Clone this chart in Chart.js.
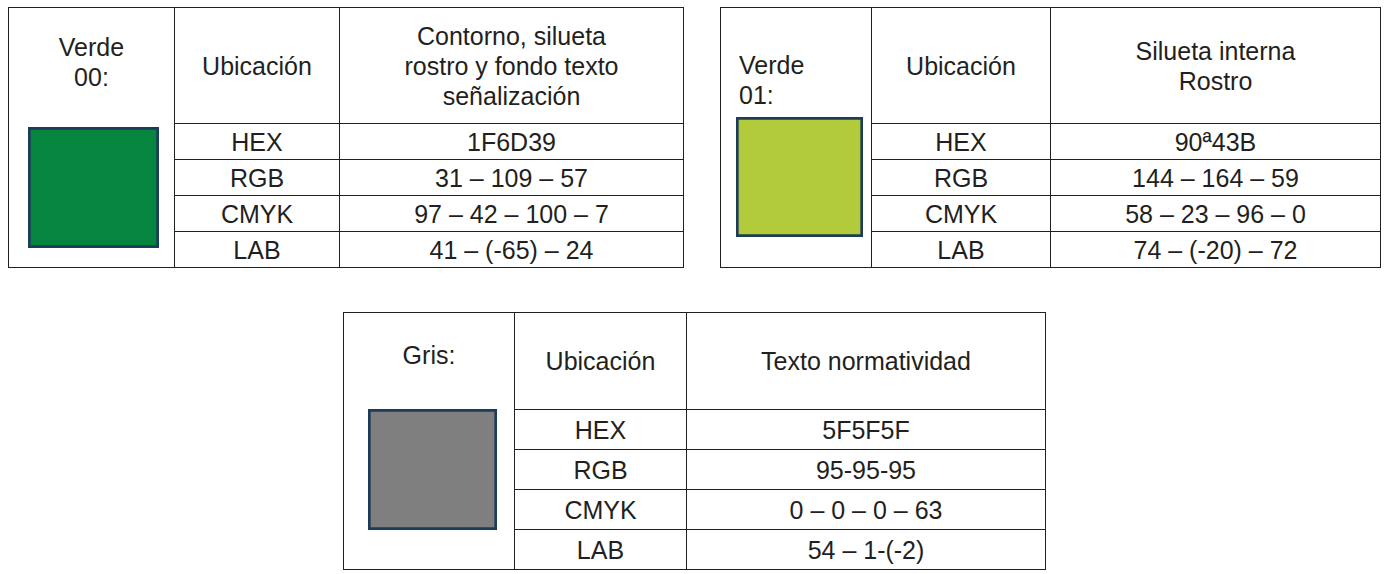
<!DOCTYPE html>
<html><head><meta charset="utf-8">
<script src="https://cdn.jsdelivr.net/npm/chart.js@4"></script>
<style>
body{margin:0;background:#fff;width:1389px;height:574px;position:relative;font-family:"Liberation Sans",Arial,sans-serif;color:#231f20}
table{position:absolute;border-collapse:collapse;font-size:25px}
td{border:1.5px solid #231f20;text-align:center;padding:0;line-height:1.2}
.lab{border-bottom:none}
.sw{border-top:none}
.sc{position:absolute}
</style></head><body>
<script>
const names=["Verde\n00:","Verde\n01:","Gris:"];
const headers=["Contorno, silueta\nrostro y fondo texto\nseñalización","Silueta interna\nRostro","Texto normatividad"];
const rowLabels=["HEX","RGB","CMYK","LAB"];
const values00=["1F6D39","31 – 109 – 57","97 – 42 – 100 – 7","41 – (-65) – 24"];
const values01=["90ª43B","144 – 164 – 59","58 – 23 – 96 – 0","74 – (-20) – 72"];
const valuesGris=["5F5F5F","95-95-95","0 – 0 – 0 – 63","54 – 1-(-2)"];
const swatchColors=["#06853f","#b2cb3a","#7f7f80"];
const swatchValue=[1];

const layouts=[
 {x:8,y:7,cols:[166,165,344],hh:116,rh:36,vals:values00,nameAlign:"center",namePad:"0",sw:[28,127,131,121]},
 {x:720,y:7,cols:[151,179,330],hh:116,rh:36,vals:values01,nameAlign:"left",namePad:"0 0 0 18px",sw:[736,117,127,120]},
 {x:343,y:312,cols:[171,172,359],hh:97,rh:40,vals:valuesGris,nameAlign:"center",namePad:"0",sw:[368,409,129,121]}
];
layouts.forEach((L,i)=>{
 const t=document.createElement('table');
 t.style.left=L.x+'px';t.style.top=L.y+'px';
 let h=`<colgroup>${L.cols.map(w=>`<col style="width:${w}px">`).join('')}</colgroup>`;
 h+=`<tr style="height:${L.hh}px"><td class="lab" style="text-align:${L.nameAlign};padding:${L.namePad};vertical-align:${i==1?'bottom':'middle'}">${names[i].replace('\n','<br>')}${i==1?'<div style="height:14px"></div>':(i==0?'<div style="height:8px"></div>':'<div style="height:12px"></div>')}</td><td>Ubicación</td><td style="white-space:nowrap">${headers[i].split('\n').join('<br>')}</td></tr>`;
 rowLabels.forEach((r,j)=>{
  h+=`<tr style="height:${L.rh}px">${j==0?`<td class="sw" rowspan="4"></td>`:''}<td>${r}</td><td>${L.vals[j]}</td></tr>`;
 });
 t.innerHTML=h;document.body.appendChild(t);
 const d=document.createElement('div');d.className='sc';
 const [sx,sy,sw,sh]=L.sw;
 d.style.cssText=`left:${sx}px;top:${sy}px;width:${sw}px;height:${sh}px`;
 const c=document.createElement('canvas');d.appendChild(c);document.body.appendChild(d);
 new Chart(c,{type:'bar',data:{labels:[''],datasets:[{data:swatchValue,backgroundColor:swatchColors[i],borderColor:'#1d3c5a',borderWidth:3,borderSkipped:false,barPercentage:1,categoryPercentage:1}]},
  options:{responsive:true,maintainAspectRatio:false,animation:false,layout:{padding:0},
   plugins:{legend:{display:false},tooltip:{enabled:false}},
   scales:{x:{display:false},y:{display:false,min:0,max:1}}}});
});
</script>
</body></html>
